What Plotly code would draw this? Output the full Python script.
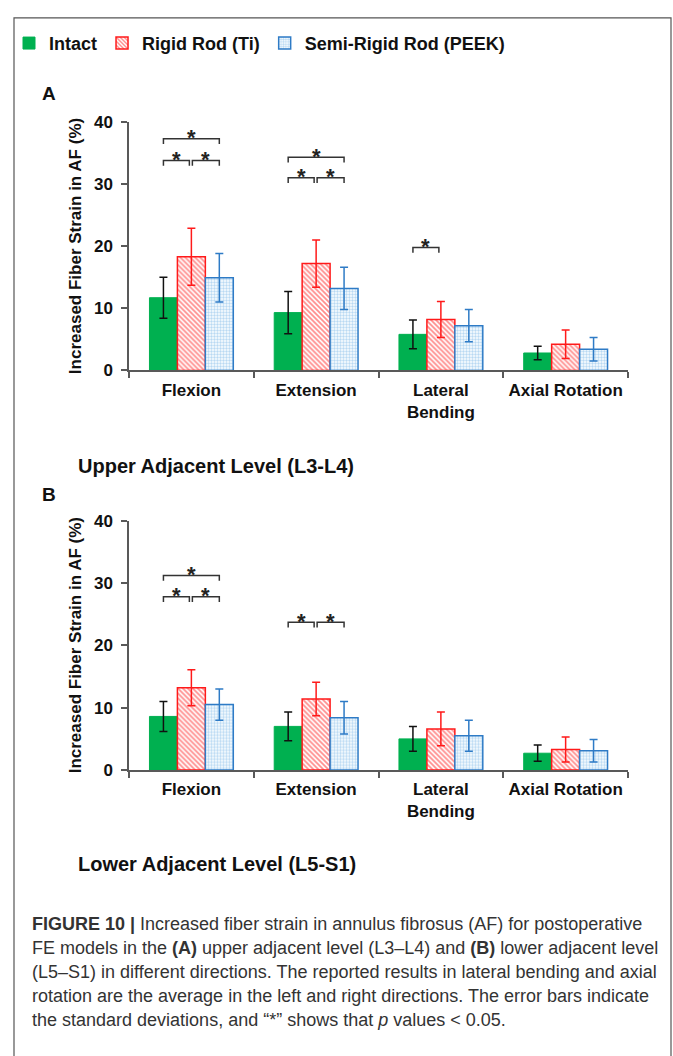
import plotly.graph_objects as go

W, H = 673, 1056

categories = ["Flexion", "Extension", "Lateral<br>Bending", "Axial Rotation"]
series_names = ["Intact", "Rigid Rod (Ti)", "Semi-Rigid Rod (PEEK)"]

# Panel A: upper adjacent level (L3-L4)
a_intact = [11.7, 9.3, 5.8, 2.8]
a_intact_sd = [3.3, 3.4, 2.3, 1.1]
a_rigid = [18.3, 17.2, 8.2, 4.2]
a_rigid_sd = [4.6, 3.8, 2.9, 2.3]
a_semi = [14.9, 13.2, 7.2, 3.4]
a_semi_sd = [3.9, 3.4, 2.6, 1.9]

# Panel B: lower adjacent level (L5-S1)
b_intact = [8.6, 7.0, 5.0, 2.7]
b_intact_sd = [2.4, 2.3, 2.0, 1.3]
b_rigid = [13.2, 11.4, 6.6, 3.3]
b_rigid_sd = [2.9, 2.7, 2.7, 2.0]
b_semi = [10.5, 8.4, 5.5, 3.1]
b_semi_sd = [2.5, 2.6, 2.5, 1.8]

# significance brackets: (category index, from series, to series, height)
a_sig = [(0, 0, 2, 37.3), (0, 0, 1, 33.8), (0, 1, 2, 33.8),
         (1, 0, 2, 34.3), (1, 0, 1, 31.0), (1, 1, 2, 31.0),
         (2, 0, 1, 19.8)]
b_sig = [(0, 0, 2, 31.2), (0, 0, 1, 27.8), (0, 1, 2, 27.8),
         (1, 0, 1, 23.7), (1, 1, 2, 23.7)]

y_ticks = [0, 10, 20, 30, 40]

FONT = "Liberation Sans, Arial, sans-serif"
GREEN = "#00B050"
RED = "#FF1A1A"
BLUE = "#2E7BC6"
AXIS = "#595959"
TXT = "#111111"


def px_x(x):
    return x / W


def px_y(y):
    return 1 - y / H


fig = go.Figure()

panels = [
    ("x", "y", [(a_intact, a_intact_sd), (a_rigid, a_rigid_sd), (a_semi, a_semi_sd)], a_sig, True),
    ("x2", "y2", [(b_intact, b_intact_sd), (b_rigid, b_rigid_sd), (b_semi, b_semi_sd)], b_sig, False),
]

styles = [
    dict(color=GREEN, line=dict(color=GREEN, width=1)),
    dict(color="white", line=dict(color=RED, width=1.5),
         pattern=dict(shape="\\", fgcolor=RED, bgcolor="white", size=3.5, solidity=0.5)),
    dict(color="white", line=dict(color=BLUE, width=1.5),
         pattern=dict(shape=".", fgcolor="#6FB2E6", bgcolor="white", size=3, solidity=0.5)),
]
err_colors = ["#111111", RED, BLUE]

for xa, ya, data, sig, show in panels:
    for k, (vals, sds) in enumerate(data):
        fig.add_trace(go.Bar(
            x=categories, y=vals, name=series_names[k],
            marker=styles[k], xaxis=xa, yaxis=ya, showlegend=show,
            error_y=dict(type="data", array=sds, visible=True,
                         color=err_colors[k], thickness=1.5, width=4),
        ))

BW = 0.224  # bar width in category units
off = [-BW, 0.0, BW]


def add_brackets(sig, xa, ya):
    for (ci, s0, s1, h) in sig:
        x0 = ci + off[s0]
        x1 = ci + off[s1]
        if s1 - s0 == 1:
            if s0 == 0:
                x1 -= 0.016
            else:
                x0 += 0.008
        drop = 0.85
        fig.add_shape(type="path",
                      path=f"M {x0},{h - drop} L {x0},{h} L {x1},{h} L {x1},{h - drop}",
                      xref=xa, yref=ya, line=dict(color="#333333", width=1.5))
        fig.add_annotation(x=(x0 + x1) / 2, y=h, xref=xa, yref=ya, text="<b>*</b>",
                           showarrow=False, font=dict(size=22, color="#222222", family=FONT),
                           xanchor="center", yanchor="middle", yshift=1)


add_brackets(a_sig, "x", "y")
add_brackets(b_sig, "x2", "y2")

xaxis_common = dict(
    type="category", range=[-0.5, 3.5], showline=True, linecolor=AXIS, linewidth=1.5,
    ticks="outside", tickson="boundaries", ticklen=6, tickcolor=AXIS, tickwidth=1.5,
    tickfont=dict(family=FONT, size=17, color=TXT, weight="bold"), ticklabelstandoff=3,
    showgrid=False, zeroline=False, domain=[px_x(129), px_x(628)],
)
yaxis_common = dict(
    range=[0, 40], tickvals=y_ticks, showline=True, linecolor=AXIS, linewidth=1.5,
    ticks="outside", ticklen=6, tickcolor=AXIS, tickwidth=1.5,
    tickfont=dict(family=FONT, size=17, color=TXT, weight="bold"), ticklabelstandoff=5,
    showgrid=False, zeroline=False,
)

fig.update_layout(
    width=W, height=H, margin=dict(l=0, r=0, t=0, b=0),
    paper_bgcolor="white", plot_bgcolor="white",
    barmode="group", bargap=0.328, bargroupgap=0,
    font=dict(family=FONT, color=TXT),
    xaxis=dict(**xaxis_common, anchor="y"),
    yaxis=dict(**yaxis_common, domain=[px_y(368), px_y(115)], anchor="x"),
    xaxis2=dict(**xaxis_common, anchor="y2"),
    yaxis2=dict(**yaxis_common, domain=[px_y(775), px_y(521)], anchor="x2"),
    legend=dict(orientation="h", x=px_x(9), xanchor="left", y=px_y(35), yanchor="middle",
                font=dict(family=FONT, size=18, color=TXT, weight="bold"),
                itemwidth=30, tracegroupgap=0, bgcolor="rgba(0,0,0,0)"),
)

# axis titles
for yc in [(115 + 368) / 2, (521 + 775) / 2]:
    fig.add_annotation(x=px_x(75), y=px_y(yc), xref="paper", yref="paper",
                       text="<b>Increased Fiber Strain in AF (%)</b>", textangle=-90,
                       showarrow=False, xanchor="center", yanchor="middle",
                       font=dict(family=FONT, size=17, color=TXT))

# panel letters
for letter, yy in [("A", 86), ("B", 494)]:
    fig.add_annotation(x=px_x(40), y=px_y(yy), xref="paper", yref="paper", text=f"<b>{letter}</b>",
                       showarrow=False, xanchor="left", yanchor="middle",
                       font=dict(family=FONT, size=19, color=TXT))

# panel subtitles
for txt, yy in [("Upper Adjacent Level (L3-L4)", 465), ("Lower Adjacent Level (L5-S1)", 871)]:
    fig.add_annotation(x=px_x(76), y=px_y(yy), xref="paper", yref="paper",
                       text=f"<b>{txt}</b>", showarrow=False, xanchor="left", yanchor="middle",
                       font=dict(family=FONT, size=20, color=TXT))

# caption
caption_lines = [
    "<b>FIGURE 10 |</b> Increased fiber strain in annulus fibrosus (AF) for postoperative",
    "FE models in the <b>(A)</b> upper adjacent level (L3–L4) and <b>(B)</b> lower adjacent level",
    "(L5–S1) in different directions. The reported results in lateral bending and axial",
    "rotation are the average in the left and right directions. The error bars indicate",
    "the standard deviations, and “*” shows that <i>p</i> values &lt; 0.05.",
]
cap_y = [932, 956, 981, 1005, 1030]
for line, yy in zip(caption_lines, cap_y):
    fig.add_annotation(x=px_x(30), y=px_y(yy), xref="paper", yref="paper", text=line,
                       showarrow=False, xanchor="left", yanchor="middle",
                       font=dict(family=FONT, size=18, color="#333333"))

# outer frame
fig.add_shape(type="rect", xref="paper", yref="paper", x0=px_x(14), x1=px_x(671),
              y0=-0.05, y1=px_y(9), line=dict(color="#555555", width=1.2), layer="below")

fig.write_html("out.html")
